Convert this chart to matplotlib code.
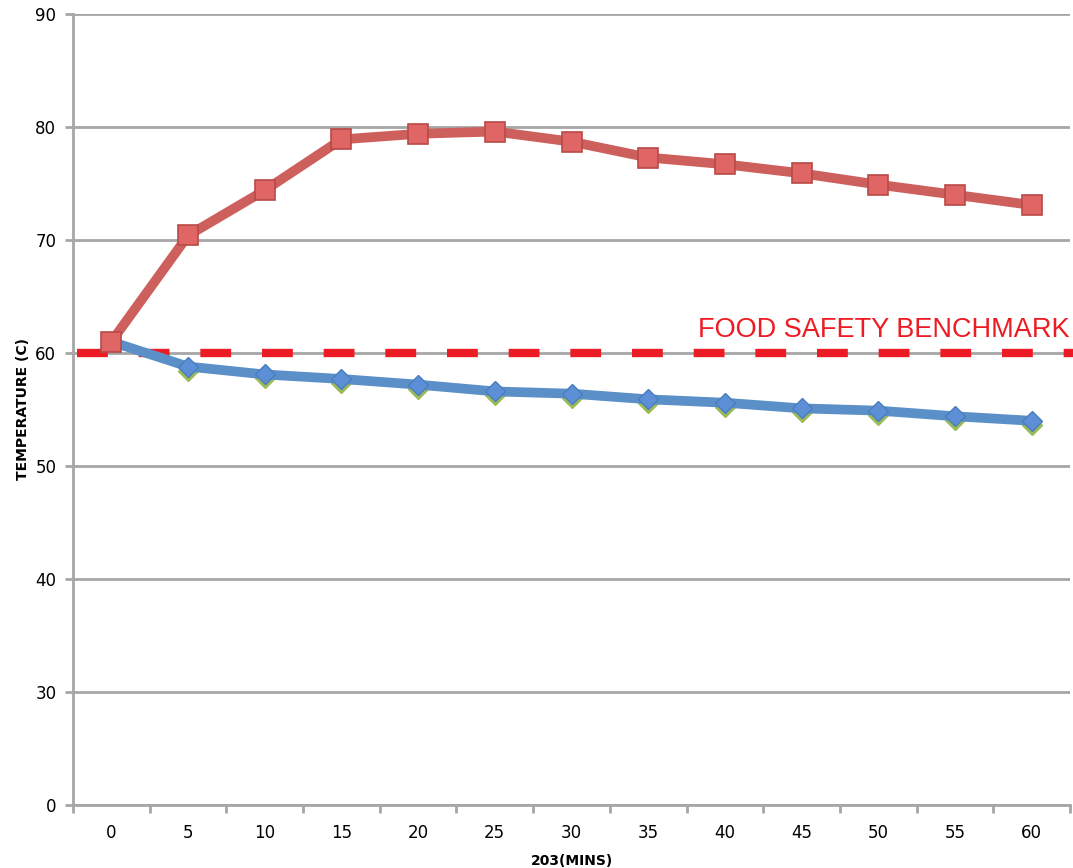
import numpy as np
import matplotlib
matplotlib.use('Agg')
import matplotlib.pyplot as plt
import matplotlib.transforms as mtransforms

# data
minutes = ['0', '5', '10', '15', '20', '25', '30', '35', '40', '45', '50', '55', '60']
red_temp = [61.0, 70.4, 74.4, 78.9, 79.4, 79.6, 78.7, 77.3, 76.7, 75.9, 74.9, 74.0, 73.1]
blue_temp = [61.0, 58.8, 58.1, 57.7, 57.2, 56.6, 56.4, 55.9, 55.6, 55.1, 54.9, 54.4, 54.0]
benchmark = 60
y_ticks = [20, 30, 40, 50, 60, 70, 80, 90]
y_labels = ['0', '30', '40', '50', '60', '70', '80', '90']

fig = plt.figure(figsize=(10.73, 8.68), dpi=100)
ax = fig.add_axes([73/1073, 63/868, 997/1073, 791/868])
xs = np.arange(len(minutes))

grid_c = '#a6a6a6'
for yt in y_ticks:
    ax.axhline(yt, color=grid_c, lw=2, zorder=1)

# benchmark line
ax.plot([-0.45, 12.6], [benchmark, benchmark], color='#ed1c24', lw=6,
        dashes=(3.7, 3.7), zorder=2, clip_on=False)
ax.text(12.5, benchmark + 0.9, 'FOOD SAFETY BENCHMARK', color='#ed1c24',
        fontsize=19.5, ha='right', va='bottom', family='Liberation Sans')

# blue series with green shadow markers
shadow = mtransforms.offset_copy(ax.transData, fig=fig, x=0, y=-4, units='dots')
ax.plot(xs[1:], blue_temp[1:], ls='none', marker='D', ms=10, color='#9bbb59',
        transform=shadow, zorder=3)
ax.plot(xs, blue_temp, color='#5b8fc7', lw=7, zorder=4, solid_capstyle='butt')
ax.plot(xs[1:], blue_temp[1:], ls='none', marker='D', ms=10, mfc='#5d8fd6',
        mec='#4a7cc0', mew=1, zorder=5)

# red series
ax.plot(xs, red_temp, color='#cd5f5c', lw=7, zorder=6)
ax.plot(xs, red_temp, ls='none', marker='s', ms=15, mfc='#e06666',
        mec='#b84a47', mew=1.2, zorder=7)

ax.set_xlim(-0.5, 12.5)
ax.set_ylim(20, 90)
ax.set_yticks(y_ticks)
ax.set_yticklabels(y_labels)
ax.set_xticks(xs)
ax.set_xticklabels(minutes)
ax.set_xticks(np.arange(-0.5, 12.6, 1), minor=True)
ax.tick_params(axis='x', which='major', length=0, pad=14, labelsize=12)
ax.tick_params(axis='x', which='minor', length=6, width=2, color=grid_c, direction='out')
ax.tick_params(axis='y', length=6, width=2, color=grid_c, labelsize=12, pad=6)

for s in ['top', 'right']:
    ax.spines[s].set_visible(False)
for s in ['left', 'bottom']:
    ax.spines[s].set_color(grid_c)
    ax.spines[s].set_linewidth(2)

ax.set_xlabel('203(MINS)', fontsize=10, fontweight='bold', labelpad=8)
ax.set_ylabel('TEMPERATURE (C)', fontsize=10, fontweight='bold', labelpad=4)

fig.savefig('out.png', dpi=100)
